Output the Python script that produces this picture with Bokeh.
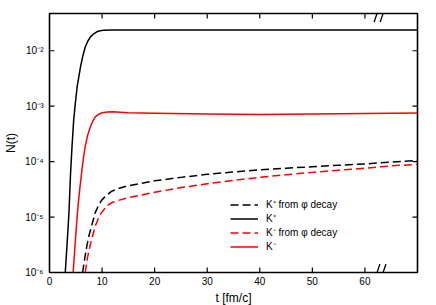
import math
from bokeh.plotting import figure
from bokeh.models import FixedTicker, CustomJSTickFormatter, Legend, LegendItem, Arrow
from bokeh.embed import file_html
from bokeh.resources import INLINE

# ---------------- data ----------------
T_KPLUS = [3.0, 3.4, 3.7, 4.0, 4.3, 4.6, 4.9, 5.25, 5.6, 5.9, 6.3, 6.8, 7.3, 7.8, 8.4,
           9.0, 9.6, 10.3, 12.0, 20.0, 30.0, 40.0, 50.0, 60.0, 70.0]
N_KPLUS = [1.0e-6, 4.0e-6, 1.2e-5, 6.0e-5, 2.0e-4, 5.6e-4, 1.1e-3, 2.2e-3, 3.5e-3, 5.1e-3,
           7.8e-3, 1.17e-2, 1.5e-2, 1.78e-2, 2.02e-2, 2.2e-2, 2.3e-2, 2.35e-2, 2.37e-2,
           2.37e-2, 2.37e-2, 2.37e-2, 2.37e-2, 2.37e-2, 2.37e-2]

T_KMINUS = [4.5, 4.8, 5.1, 5.4, 5.8, 6.2, 6.5, 6.8, 7.3, 7.8, 8.2, 8.7, 9.3, 10.0, 11.0,
            12.0, 13.5, 15.0, 20.0, 30.0, 40.0, 50.0, 60.0, 70.0]
N_KMINUS = [1.0e-6, 2.6e-6, 6.5e-6, 1.5e-5, 3.5e-5, 7.5e-5, 1.25e-4, 1.9e-4, 3.1e-4, 4.3e-4,
            5.3e-4, 6.4e-4, 7.1e-4, 7.6e-4, 7.85e-4, 7.9e-4, 7.8e-4, 7.65e-4, 7.45e-4,
            7.2e-4, 7.1e-4, 7.2e-4, 7.35e-4, 7.5e-4]

T_KPLUS_PHI = [6.3, 6.7, 7.1, 7.5, 8.0, 8.7, 9.3, 9.9, 10.8, 11.8, 13.0, 14.4, 17.0, 20.0,
               25.0, 30.0, 35.0, 40.0, 45.0, 50.0, 55.0, 60.0, 65.0, 70.0]
N_KPLUS_PHI = [1.0e-6, 1.8e-6, 3.0e-6, 4.6e-6, 6.9e-6, 1.2e-5, 1.6e-5, 2.0e-5, 2.45e-5,
               2.9e-5, 3.25e-5, 3.55e-5, 4.0e-5, 4.5e-5, 5.2e-5, 5.9e-5, 6.5e-5, 7.1e-5,
               7.6e-5, 8.1e-5, 8.6e-5, 9.1e-5, 9.8e-5, 1.05e-4]

T_KMINUS_PHI = [6.8, 7.2, 7.7, 8.2, 8.7, 9.6, 10.9, 12.0, 13.1, 15.0, 17.0, 20.0, 25.0,
                30.0, 35.0, 40.0, 45.0, 50.0, 55.0, 60.0, 65.0, 70.0]
N_KMINUS_PHI = [1.0e-6, 1.8e-6, 3.0e-6, 4.6e-6, 6.9e-6, 1.1e-5, 1.6e-5, 1.85e-5, 2.0e-5,
                2.25e-5, 2.45e-5, 2.8e-5, 3.4e-5, 4.0e-5, 4.6e-5, 5.2e-5, 5.8e-5, 6.4e-5,
                7.0e-5, 7.6e-5, 8.4e-5, 8.9e-5]

LEGEND_LABELS = ["K\u207a from \u03c6 decay", "K\u207a", "K\u207b from \u03c6 decay", "K\u207b"]

X_TICKS = [0, 10, 20, 30, 40, 50, 60]
X_TICK_LABELS = ["0", "10", "20", "30", "40", "50", "60"]
Y_TICKS = [1e-6, 1e-5, 1e-4, 1e-3, 1e-2]
Y_TICK_LABELS = ["10\u207b\u2076", "10\u207b\u2075", "10\u207b\u2074", "10\u207b\u00b3", "10\u207b\u00b2"]
X_RANGE = (0, 70)
Y_RANGE = (1e-6, 0.047)
BREAK_T = [62.3, 63.45]

X_TITLE = "t [fm/c]"
Y_TITLE = "N(t)"

# ---------------- layout / style ----------------
FONT = "Liberation Sans"
FRAME_W, FRAME_H = 368, 259
TICK_LEN = 5

p = figure(frame_width=FRAME_W, frame_height=FRAME_H, x_range=X_RANGE, y_range=Y_RANGE,
           y_axis_type="log", output_backend="svg", toolbar_location=None,
           min_border_left=49, min_border_right=19, min_border_top=13, min_border_bottom=33)
p.xgrid.visible = False
p.ygrid.visible = False
p.outline_line_color = "black"
p.outline_line_width = 1.6
p.background_fill_color = "white"
p.border_fill_color = "white"

def style_axis(ax):
    ax.axis_line_color = None
    ax.major_tick_line_color = None
    ax.minor_tick_line_color = None
    ax.major_tick_in = 0
    ax.major_tick_out = 0
    ax.minor_tick_in = 0
    ax.minor_tick_out = 0
    ax.major_label_text_font = FONT
    ax.major_label_text_font_size = "10px"
    ax.major_label_text_color = "black"
    ax.axis_label_text_font = FONT
    ax.axis_label_text_font_size = "12px"
    ax.axis_label_text_font_style = "normal"
    ax.axis_label_text_color = "black"

# bottom axis (labels)
xax = p.xaxis[0]
xax.ticker = FixedTicker(ticks=X_TICKS, minor_ticks=[])
xax.major_label_overrides = dict(zip(X_TICKS, X_TICK_LABELS))
style_axis(xax)
xax.major_label_standoff = 4
xax.axis_label = X_TITLE
xax.axis_label_standoff = 3

# left axis (labels)
yax = p.yaxis[0]
yax.ticker = FixedTicker(ticks=Y_TICKS, minor_ticks=[])
yax.formatter = CustomJSTickFormatter(
    args=dict(tv=Y_TICKS, tl=Y_TICK_LABELS),
    code="""
    let best = 0, bd = Infinity;
    for (let i = 0; i < tv.length; i++) {
        const d = Math.abs(Math.log10(tick) - Math.log10(tv[i]));
        if (d < bd) { bd = d; best = i; }
    }
    return tl[best];
    """)
style_axis(yax)
yax.major_label_standoff = 6
yax.axis_label = Y_TITLE
yax.axis_label_standoff = 4

px_per_t = FRAME_W / (X_RANGE[1] - X_RANGE[0])
px_per_dec = FRAME_H / (math.log10(Y_RANGE[1]) - math.log10(Y_RANGE[0]))

# inward tick marks on all four borders (mirrored like gnuplot), drawn as segment glyphs
dy_fac = 10 ** (TICK_LEN / px_per_dec)
dx = TICK_LEN / px_per_t
xt = X_TICKS[1:]
yt = Y_TICKS[1:]
p.segment(x0=xt, y0=[Y_RANGE[0]] * len(xt), x1=xt, y1=[Y_RANGE[0] * dy_fac] * len(xt),
          line_color="black", line_width=1.2)
p.segment(x0=xt, y0=[Y_RANGE[1]] * len(xt), x1=xt, y1=[Y_RANGE[1] / dy_fac] * len(xt),
          line_color="black", line_width=1.2)
p.segment(x0=[X_RANGE[0]] * len(yt), y0=yt, x1=[X_RANGE[0] + dx] * len(yt), y1=yt,
          line_color="black", line_width=1.2)
p.segment(x0=[X_RANGE[1]] * len(yt), y0=yt, x1=[X_RANGE[1] - dx] * len(yt), y1=yt,
          line_color="black", line_width=1.2)

# curves
r_kp_phi = p.line(T_KPLUS_PHI, N_KPLUS_PHI, line_color="black", line_width=1.5,
                  line_dash="8 4")
r_kp = p.line(T_KPLUS, N_KPLUS, line_color="black", line_width=1.5, line_join="round")
r_km_phi = p.line(T_KMINUS_PHI, N_KMINUS_PHI, line_color="#ff0000", line_width=1.5,
                  line_dash="8 4")
r_km = p.line(T_KMINUS, N_KMINUS, line_color="#ff0000", line_width=1.5, line_join="round")

legend = Legend(items=[LegendItem(label=lbl, renderers=[r]) for lbl, r in
                       zip(LEGEND_LABELS, [r_kp_phi, r_kp, r_km_phi, r_km])],
                location=(181, 19), padding=0, margin=0, spacing=0,
                glyph_width=28, glyph_height=13, label_height=13, label_standoff=8,
                label_text_font=FONT, label_text_font_size="10px", label_text_color="black",
                background_fill_alpha=0, border_line_alpha=0)
p.add_layout(legend)

# axis-break marks "//" on top and bottom borders
HALF_W, HALF_H = 2.9, 8.5
for tc in BREAK_T:
    for yedge in Y_RANGE:
        p.add_layout(Arrow(end=None,
                           x_start=tc - HALF_W / px_per_t,
                           y_start=yedge * 10 ** (-HALF_H / px_per_dec),
                           x_end=tc + HALF_W / px_per_t,
                           y_end=yedge * 10 ** (HALF_H / px_per_dec),
                           line_color="black", line_width=1.3))

with open("out.html", "w", encoding="utf-8") as f:
    f.write(file_html(p, INLINE))
